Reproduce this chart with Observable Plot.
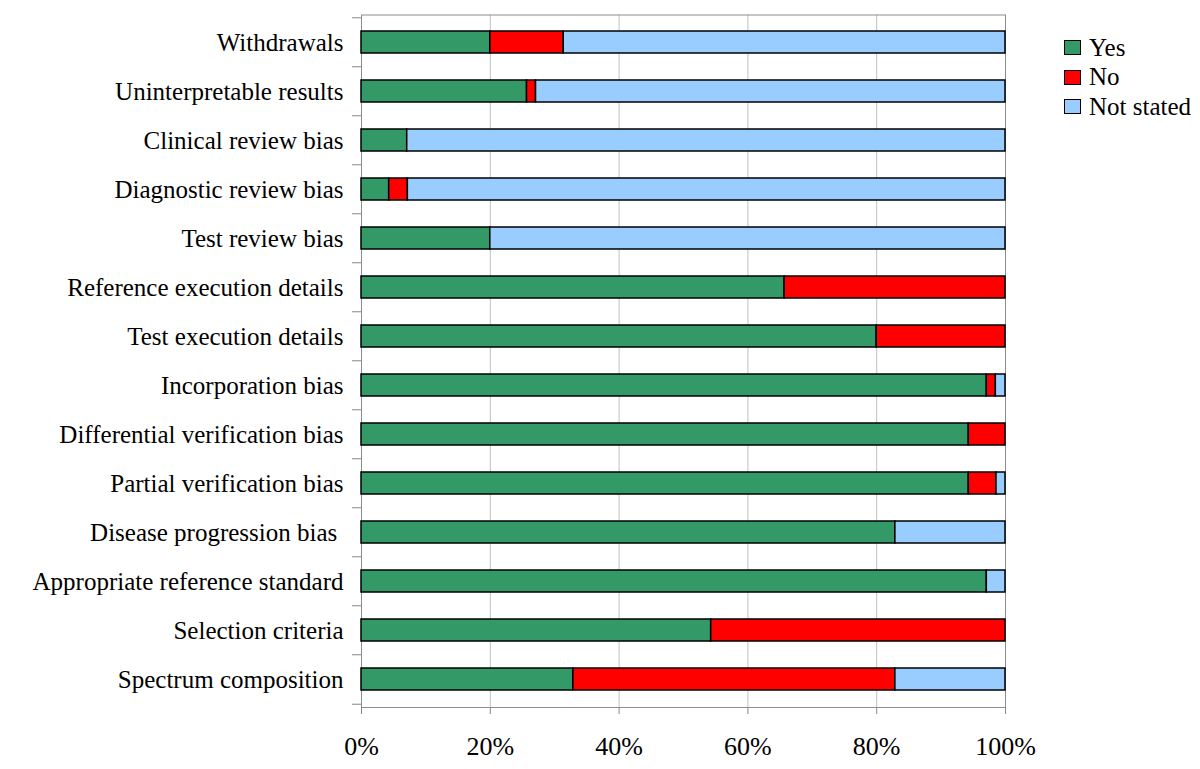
<!DOCTYPE html>
<html><head><meta charset="utf-8">
<script src="https://cdn.jsdelivr.net/npm/d3@7"></script>
<script src="https://cdn.jsdelivr.net/npm/@observablehq/plot@0.6"></script>
<style>
body{margin:0;background:#fff;}
#wrap{position:relative;width:1200px;height:769px;}
.legend{position:absolute;left:1064px;top:33px;font-family:'Liberation Serif','Times New Roman',serif;font-size:25px;color:#000;}
.legend .item{display:flex;align-items:center;height:29.5px;}
.legend .sw{width:15px;height:13px;border:1px solid #000;margin-right:8px;}
</style></head><body><div id="wrap"></div>
<script>
const categories = ["Withdrawals","Uninterpretable results","Clinical review bias","Diagnostic review bias","Test review bias","Reference execution details","Test execution details","Incorporation bias","Differential verification bias","Partial verification bias","Disease progression bias\u00a0","Appropriate reference standard","Selection criteria","Spectrum composition"];
const responses = ["Yes","No","Not stated"];
const colors = ["#339966","#FF0000","#99CCFF"];
const yesPct = [20, 25.7, 7.1, 4.3, 20, 65.7, 80, 97.1, 94.3, 94.3, 82.9, 97.1, 54.3, 32.9];
const noPct = [11.4, 1.4, 0, 2.9, 0, 34.3, 20, 1.4, 5.7, 4.3, 0, 0, 45.7, 50];
const notStatedPct = [68.6, 72.9, 92.9, 92.8, 80, 0, 0, 1.5, 0, 1.4, 17.1, 2.9, 0, 17.1];
const xTicks = [0, 0.2, 0.4, 0.6, 0.8, 1];

const rows = [];
categories.forEach((c, i) => {
  [yesPct[i], noPct[i], notStatedPct[i]].forEach((v, j) => {
    if (v > 0) rows.push({category: c, response: responses[j], value: v});
  });
});

const FONT = "'Liberation Serif', 'Times New Roman', serif";
const W = 1200, H = 769, mt = 14.5, mb = 62, ml = 361, mr = 195;
const step = (H - mt - mb) / categories.length;
const chart = Plot.plot({
  width: W, height: H, marginTop: mt, marginBottom: mb, marginLeft: ml, marginRight: mr,
  style: {fontFamily: FONT, fontSize: "25px", color: "#000", background: "#fff"},
  x: {domain: [0, 1], label: null},
  y: {domain: categories, paddingInner: 0.56, paddingOuter: 0.28, label: null},
  color: {domain: responses, range: colors},
  marks: [
    Plot.gridX({ticks: xTicks.slice(1, -1), stroke: "#c0c0c0", strokeOpacity: 1}),
    Plot.frame({stroke: "#8c8c8c"}),
    Plot.barX(rows, Plot.stackX({offset: "normalize", x: "value", y: "category", fill: "response", stroke: "#000", strokeWidth: 1.5})),
    Plot.axisX({ticks: xTicks, tickFormat: d3.format(".0%"), tickSize: 7, tickPadding: 22, fontSize: 26, stroke: "#888", fill: "#000", label: null}),
    Plot.axisY({tickSize: 0, tickPadding: 18, fontSize: 25, fill: "#000", label: null}),
    Plot.axisY({text: null, tickSize: 9, dy: -step / 2, stroke: "#888", label: null}),
    Plot.axisY({ticks: [categories[categories.length - 1]], text: null, tickSize: 9, dy: step / 2, stroke: "#888", label: null})
  ]
});
const wrap = document.getElementById("wrap");
wrap.appendChild(chart);
const lg = document.createElement("div");
lg.className = "legend";
responses.forEach((r, i) => {
  const it = document.createElement("div"); it.className = "item";
  const sw = document.createElement("div"); sw.className = "sw"; sw.style.background = colors[i];
  const tx = document.createElement("span"); tx.textContent = r;
  it.appendChild(sw); it.appendChild(tx); lg.appendChild(it);
});
wrap.appendChild(lg);
</script>
</body></html>
